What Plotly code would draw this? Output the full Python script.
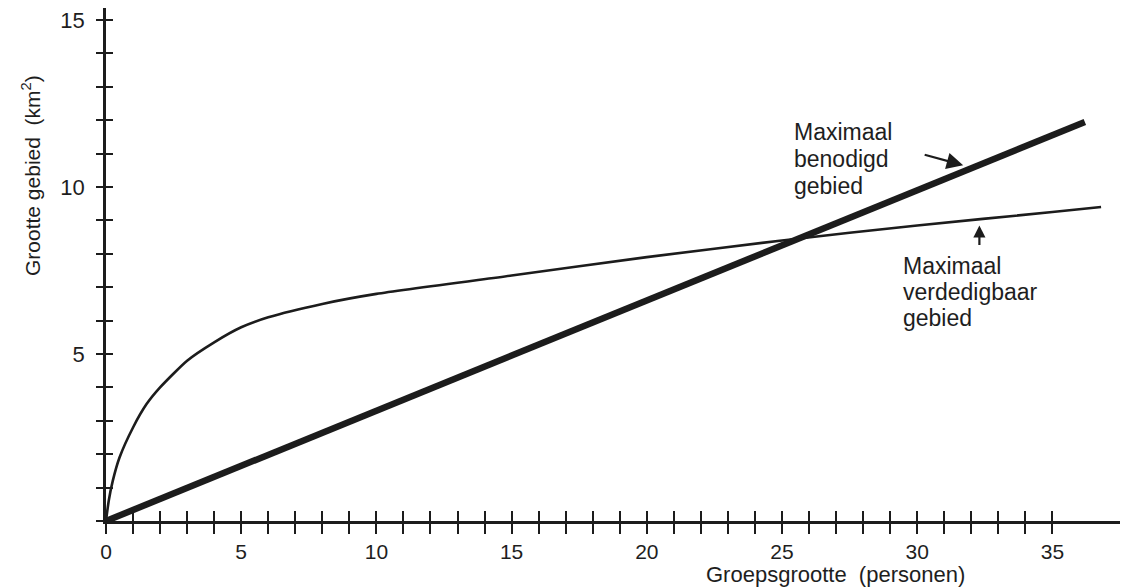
import plotly.graph_objects as go

# ---- data ----
required_x = [0, 36.2]
required_y = [0, 11.95]

defend_x = [0, 0.1, 0.25, 0.5, 1, 1.5, 2, 3, 4, 5, 6, 8, 10, 15, 20, 25, 30, 35, 36.8]
defend_y = [0, 0.6, 1.2, 1.9, 2.8, 3.5, 4.0, 4.8, 5.35, 5.8, 6.1, 6.5, 6.8, 7.35, 7.9, 8.4, 8.85, 9.25, 9.4]

x_tickvals = list(range(0, 36))
x_ticktext = [str(v) if v % 5 == 0 else "" for v in x_tickvals]
y_tickvals = list(range(0, 16))
y_ticktext = [str(v) if (v % 5 == 0 and v > 0) else "" for v in y_tickvals]

x_title = "Groepsgrootte  (personen)"
y_title = "Grootte gebied  (km<sup>2</sup>)"
label_required = ["Maximaal", "benodigd", "gebied"]
label_defend = ["Maximaal", "verdedigbaar", "gebied"]

# ---- layout geometry (pixels) ----
W, H = 1123, 588
ML, MR, MT, MB = 106, 3, 8, 67
PW, PH = W - ML - MR, H - MT - MB
X_RANGE = [0, 37.5]
Y_RANGE = [0, 15.36]
INK = "#1c1c1c"
TXT = "#1e1e1e"
FONT = "Liberation Sans, Arial, Helvetica, sans-serif"


def pxx(x):
    return (x - ML) / PW


def pxy(y):
    return (MT + PH - y) / PH


fig = go.Figure()
fig.add_trace(go.Scatter(x=defend_x, y=defend_y, mode="lines",
                         line=dict(color=INK, width=2.6, shape="spline", smoothing=0.6),
                         showlegend=False, hoverinfo="skip"))
fig.add_trace(go.Scatter(x=required_x, y=required_y, mode="lines",
                         line=dict(color=INK, width=6.5),
                         showlegend=False, hoverinfo="skip"))
# invisible trace for the overlay axes (inside half of the cross ticks)
fig.add_trace(go.Scatter(x=[0], y=[0], xaxis="x2", yaxis="y2", mode="markers",
                         marker=dict(opacity=0), showlegend=False, hoverinfo="skip"))

axis_common = dict(showgrid=False, zeroline=False, tickcolor=INK, tickwidth=2.2,
                   tickmode="array", automargin=False)

fig.update_layout(
    width=W, height=H,
    margin=dict(l=ML, r=MR, t=MT, b=MB, autoexpand=False),
    paper_bgcolor="white", plot_bgcolor="white",
    font=dict(family=FONT, color=TXT),
    xaxis=dict(range=X_RANGE, tickvals=x_tickvals, ticktext=x_ticktext,
               ticks="outside", ticklen=10, showline=True, linecolor=INK, linewidth=2.5,
               tickfont=dict(size=21, color=TXT), ticklabelstandoff=0, **axis_common),
    yaxis=dict(range=Y_RANGE, tickvals=y_tickvals, ticktext=y_ticktext,
               ticks="outside", ticklen=7, showline=True, linecolor=INK, linewidth=2.5,
               tickfont=dict(size=22, color=TXT), ticklabelstandoff=7, **axis_common),
    xaxis2=dict(range=X_RANGE, overlaying="x", anchor="y2", side="bottom",
                tickvals=x_tickvals, ticks="inside", ticklen=10, showticklabels=False,
                showline=False, **axis_common),
    yaxis2=dict(range=Y_RANGE, overlaying="y", anchor="x2", side="left",
                tickvals=y_tickvals, ticks="inside", ticklen=7, showticklabels=False,
                showline=False, **axis_common),
)

annotations = []
# axis titles
annotations.append(dict(text=x_title, xref="paper", yref="paper", x=pxx(835), y=pxy(575),
                        xanchor="center", yanchor="middle", showarrow=False,
                        font=dict(size=22, color=TXT)))
annotations.append(dict(text=y_title, xref="paper", yref="paper", x=pxx(31), y=pxy(176),
                        xanchor="center", yanchor="middle", showarrow=False, textangle=-90,
                        font=dict(size=21, color=TXT)))
# curve labels
for t, cy in zip(label_required, [132, 159, 186]):
    annotations.append(dict(text=t, xref="paper", yref="paper", x=pxx(792), y=pxy(cy),
                            xanchor="left", yanchor="middle", showarrow=False,
                            font=dict(size=23, color=TXT)))
for t, cy in zip(label_defend, [266, 292, 318]):
    annotations.append(dict(text=t, xref="paper", yref="paper", x=pxx(901), y=pxy(cy),
                            xanchor="left", yanchor="middle", showarrow=False,
                            font=dict(size=23, color=TXT)))
# arrows
annotations.append(dict(text="", x=31.7, y=10.65, xref="x", yref="y", showarrow=True,
                        ax=-40, ay=-11, arrowhead=2, arrowsize=1.5, arrowwidth=2.2,
                        arrowcolor=INK, standoff=0))
annotations.append(dict(text="", x=32.3, y=8.85, xref="x", yref="y", showarrow=True,
                        ax=0, ay=21, arrowhead=2, arrowsize=1.1, arrowwidth=2.2,
                        arrowcolor=INK, standoff=0))
fig.update_layout(annotations=annotations)

fig.write_html("out.html", config={"displayModeBar": False},
               post_script="document.body.style.margin='0';")
